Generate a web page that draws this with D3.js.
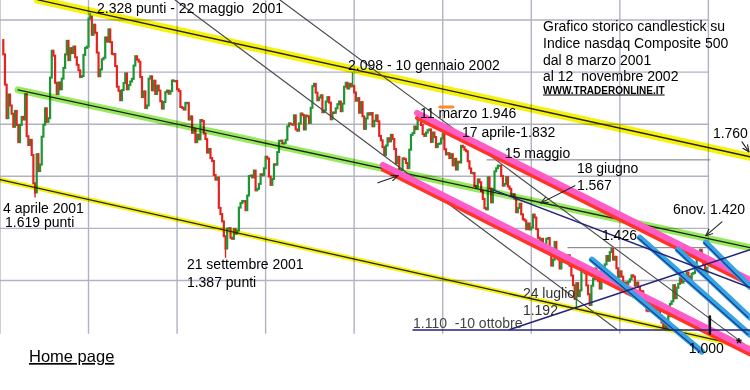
<!DOCTYPE html>
<html>
<head>
<meta charset="utf-8">
<script src="https://cdn.jsdelivr.net/npm/d3@7"></script>
<style>
  body { margin: 0; background: #fff; }
  svg { display: block; font-family: "Liberation Sans", Arial, sans-serif; }
  text { white-space: pre; }
</style>
</head>
<body>
<svg id="chart" width="750" height="390"></svg>
<script>
// daily closes, [day, close]
var mar01 = [[8,2168],[9,2052],[12,1923],[13,2014],[14,1972],[15,1940],[16,1890],[19,1951],[20,1897],[21,1831],[22,1897],[23,1928],[26,1918],[27,2015],[28,1854],[29,1820],[30,1840]];
var apr01 = [[2,1782],[3,1673],[4,1638],[5,1785],[6,1720],[9,1745],[10,1852],[11,1898],[12,1961],[16,1909],[17,1923],[18,2079],[19,2182],[20,2163],[23,2059],[24,2016],[25,2060],[26,2034],[27,2075],[30,2116]];
var may01 = [[1,2168],[2,2220],[3,2146],[4,2192],[7,2173],[8,2198],[9,2157],[10,2128],[11,2107],[14,2081],[15,2085],[16,2166],[17,2193],[18,2198],[21,2305],[22,2313],[23,2243],[24,2282],[25,2251],[29,2175],[30,2084],[31,2110]];
var jun01 = [[1,2149],[4,2155],[5,2233],[6,2217],[7,2264],[8,2215],[11,2170],[12,2169],[13,2123],[14,2044],[15,2028],[18,1992],[19,2031],[20,2058],[21,2095],[22,2034],[25,2050],[26,2064],[27,2074],[28,2125],[29,2161]];
var jul01 = [[2,2148],[3,2140],[5,2081],[6,2004],[9,2026],[10,1962],[11,1972],[12,2075],[13,2084],[16,2030],[17,2067],[18,2016],[19,2048],[20,2029],[23,1988],[24,1960],[25,1985],[26,2023],[27,2029],[30,2017],[31,2027]];
var aug01 = [[1,2068],[2,2066],[3,2066],[6,2034],[7,2027],[8,1966],[9,1963],[10,1956],[13,1982],[14,1982],[15,1918],[16,1930],[17,1867],[20,1881],[21,1831],[22,1860],[23,1842],[24,1916],[27,1912],[28,1864],[29,1843],[30,1791],[31,1805]];
var sep01 = [[4,1770],[5,1759],[6,1705],[7,1687],[10,1695],[17,1579],[18,1555],[19,1527],[20,1470],[21,1423],[24,1499],[25,1501],[26,1464],[27,1460],[28,1498]];
var oct01 = [[1,1480],[2,1492],[3,1580],[4,1597],[5,1605],[8,1605],[9,1570],[10,1626],[11,1701],[12,1703],[15,1696],[16,1722],[17,1646],[18,1652],[19,1671],[22,1708],[23,1704],[24,1731],[25,1775],[26,1768],[29,1699],[30,1667],[31,1690]];
var nov01 = [[1,1746],[2,1745],[5,1793],[6,1836],[7,1837],[8,1827],[9,1828],[12,1840],[13,1892],[14,1903],[15,1900],[16,1898],[19,1934],[20,1880],[21,1875],[23,1903],[26,1941],[27,1935],[28,1880],[29,1933],[30,1930]];
var dec01 = [[3,1905],[4,1963],[5,2046],[6,2055],[7,2021],[10,1992],[11,2002],[12,2011],[13,1946],[14,1953],[17,1987],[18,2004],[19,1983],[20,1919],[21,1945],[24,1944],[26,1961],[27,1977],[28,1987],[31,1950]];
var jan02 = [[2,1979],[3,2044],[4,2059],[7,2037],[8,2055],[9,2045],[10,2047],[11,2022],[14,1990],[15,2000],[16,1944],[17,1985],[18,1930],[22,1882],[23,1922],[24,1942],[25,1937],[28,1943],[29,1892],[30,1913],[31,1934]];
var feb02 = [[1,1911],[4,1855],[5,1838],[6,1812],[7,1782],[8,1818],[11,1846],[12,1834],[13,1859],[14,1843],[15,1805],[19,1750],[20,1775],[21,1716],[22,1724],[25,1769],[26,1766],[27,1751],[28,1731]];
var mar02 = [[1,1802],[4,1859],[5,1866],[6,1891],[7,1881],[8,1929],[11,1929],[12,1897],[13,1862],[14,1855],[15,1868],[18,1877],[19,1880],[20,1832],[21,1868],[22,1851],[25,1812],[26,1824],[27,1826],[28,1845]];
var apr02 = [[1,1862],[2,1804],[3,1784],[4,1789],[5,1770],[8,1785],[9,1742],[10,1767],[11,1726],[12,1756],[15,1753],[16,1817],[17,1812],[18,1802],[19,1796],[22,1758],[23,1730],[24,1713],[25,1713],[26,1663],[29,1657],[30,1688]];
var may02 = [[1,1677],[2,1643],[3,1613],[6,1578],[7,1573],[8,1696],[9,1653],[10,1600],[13,1652],[14,1719],[15,1731],[16,1741],[17,1741],[20,1701],[21,1664],[22,1671],[23,1697],[24,1661],[28,1652],[29,1624],[30,1631],[31,1615]];
var jun02 = [[3,1562],[4,1578],[5,1595],[6,1554],[7,1535],[10,1530],[11,1497],[12,1519],[13,1496],[14,1504],[17,1553],[18,1542],[19,1497],[20,1464],[21,1440],[24,1460],[25,1424],[26,1429],[27,1460],[28,1463]];
var jul02 = [[1,1403],[2,1357],[3,1380],[5,1448],[8,1405],[9,1381],[10,1346],[11,1374],[12,1373],[15,1382],[16,1375],[17,1397],[18,1356],[19,1319],[22,1282],[23,1229],[24,1290],[25,1240],[26,1262],[29,1335],[30,1344],[31,1328]];
var aug02 = [[1,1281],[2,1247],[5,1206],[6,1280],[7,1306],[8,1346],[9,1306],[12,1299],[13,1269],[14,1334],[15,1346],[16,1362],[19,1394],[20,1376],[21,1409],[22,1423],[23,1380],[26,1391],[27,1347],[28,1314],[29,1335],[30,1315]];
var sep02 = [[3,1263],[4,1292],[5,1251],[6,1295],[9,1305],[10,1320],[11,1315],[12,1280],[13,1292],[16,1275],[17,1260],[18,1259],[19,1216],[20,1222],[23,1184],[24,1183],[25,1222],[26,1221],[27,1199],[30,1172]];
var oct02 = [[1,1213],[2,1187],[3,1165],[4,1139],[7,1119],[8,1129],[9,1114],[10,1163],[11,1210],[14,1220],[15,1282],[16,1232],[17,1272],[18,1287],[21,1309],[22,1292],[23,1320],[24,1298],[25,1331],[28,1315],[29,1300],[30,1326],[31,1329]];
var nov02 = [[1,1360],[4,1396],[5,1401],[6,1418],[7,1376],[8,1359],[11,1319],[12,1349]];

var months = [["2001-03",mar01],["2001-04",apr01],["2001-05",may01],["2001-06",jun01],["2001-07",jul01],["2001-08",aug01],
  ["2001-09",sep01],["2001-10",oct01],["2001-11",nov01],["2001-12",dec01],["2002-01",jan02],["2002-02",feb02],["2002-03",mar02],
  ["2002-04",apr02],["2002-05",may02],["2002-06",jun02],["2002-07",jul02],["2002-08",aug02],["2002-09",sep02],["2002-10",oct02],["2002-11",nov02]];
var firstOpen = 2223;

// intraday extremes that are written on the chart
var extremes = [["2001-04-04",1619],["2001-05-22",2328],["2001-09-21",1387],["2002-01-10",2098],["2002-03-11",1946],
  ["2002-07-24",1192],["2002-08-22",1426],["2002-10-10",1108],["2002-11-06",1420]];

// hand drawn lines, [session number, price]
var yellowTop = [[20.8,2377],[446.9,1775]];
var yellowLow = [[-2,1687],[446.9,1042]];
var greenMid = [[8.8,2032],[446.9,1426]];
var thinLines = [[[102.8,2377],[367.3,1112]], [[165.6,2377],[443.9,1054]]];
var pinkLines = [[[247.6,1943],[446.9,1303]], [[227.2,1744],[446.9,1035]]];
var navyLines = [[[293.1,1648],[446.9,1273]], [[303.2,1112],[446.9,1418]], [[245.2,1110],[446.9,1110]]];
var blueLines = [[[352.3,1380],[418.1,1027]], [[381.0,1464],[446.9,1092]], [[403.8,1418],[446.9,1158]], [[420.5,1445],[446.9,1276]]];
var levelLines = [[[289.5,1763],[422.9,1763]], [[337.9,1426],[422.9,1426]]];
var arrows = [[[224.2,1675],[236.2,1702]], [[342.1,1664],[321.8,1598]], [[430.1,1525],[420.5,1472]], [[442.1,1832],[446.3,1794]]];
var targetMark = [[422.9,1162],[422.9,1096]];
var orangeMark = [[261.3,1966],[269.1,1966]];

// annotations [text, session, price, colour]
var labels = [
  ["2.328 punti - 22 maggio  2001", 56.1, 2327, "#000"],
  ["2.098 - 10 gennaio 2002", 206.3, 2108, "#000"],
  ["11 marzo 1.946", 249.4, 1924, "#000"],
  ["17 aprile-1.832", 274.5, 1851, "#000"],
  ["15 maggio", 300.2, 1771, "#000"],
  ["18 giugno", 343.3, 1713, "#000"],
  ["1.567", 343.3, 1648, "#000"],
  ["1.760", 424.7, 1846, "#000"],
  ["6nov. 1.420", 400.8, 1556, "#000"],
  ["1.426", 358.3, 1456, "#000"],
  ["24 luglio", 311, 1232, "#333"],
  ["1.192", 311, 1167, "#333"],
  ["1.110  -10 ottobre", 245.2, 1117, "#444"],
  ["1.000", 410.3, 1021, "#000"],
  ["4 aprile 2001", -0.2, 1560, "#000"],
  ["1.619 punti", 1.0, 1504, "#000"],
  ["21 settembre 2001", 109.9, 1343, "#000"],
  ["1.387 punti", 109.9, 1274, "#000"]
];
var titleLines = ["Grafico storico candlestick su", "Indice nasdaq Composite 500", "dal 8 marzo 2001", "al 12  novembre 2002"];
var gridPrices = [2300, 2100, 1900, 1700, 1500, 1300];
var gridSessions = [-2, 51, 104, 157, 210, 263, 316, 369, 422];

// build the sessions
var sessions = [];
months.forEach(function(m) {
  m[1].forEach(function(d) {
    sessions.push({ date: m[0] + "-" + (d[0] < 10 ? "0" : "") + d[0], close: d[1] });
  });
});
sessions.forEach(function(d, i) {
  d.i = i;
  d.open = i ? sessions[i - 1].close : firstOpen;
});

var svg = d3.select("#chart");
var x = d3.scaleLinear().domain([0, sessions.length - 1]).range([3.3, 706.7]);
var y = d3.scaleLinear().domain([1100, 2300]).range([332.6, 20]);

// grid
var grid = svg.append("g").attr("stroke", "#b2b2c2").attr("stroke-width", 1.4);
grid.selectAll(".h").data(gridPrices).enter().append("line")
  .attr("x1", x(-2)).attr("x2", x(422.5))
  .attr("y1", function(d) { return y(d); }).attr("y2", function(d) { return y(d); });
grid.selectAll(".v").data(gridSessions).enter().append("line")
  .attr("x1", function(d) { return x(d); }).attr("x2", function(d) { return x(d); })
  .attr("y1", 0).attr("y2", y(1096));

// candles
var cw = 2.2;
var candles = svg.append("g");
candles.selectAll("rect").data(sessions).enter().append("rect")
  .attr("x", function(d) { return x(d.i) - cw / 2; })
  .attr("width", cw)
  .attr("y", function(d) { return y(Math.max(d.open, d.close)) - 1; })
  .attr("height", function(d) { return Math.max(2.5, Math.abs(y(d.open) - y(d.close)) + 2); })
  .attr("fill", function(d) { return d.close >= d.open ? "#1c9632" : "#e6221c"; });

var byDate = {};
sessions.forEach(function(d) { byDate[d.date] = d; });
candles.selectAll("line").data(extremes).enter().append("line")
  .attr("x1", function(e) { return x(byDate[e[0]].i); })
  .attr("x2", function(e) { return x(byDate[e[0]].i); })
  .attr("y1", function(e) { var d = byDate[e[0]]; return y(e[1] > d.close ? Math.max(d.open, d.close) : Math.min(d.open, d.close)); })
  .attr("y2", function(e) { return y(e[1]); })
  .attr("stroke", function(e) { var d = byDate[e[0]]; return d.close >= d.open ? "#1c9632" : "#e6221c"; })
  .attr("stroke-width", 1.4);

var line = d3.line().x(function(p) { return x(p[0]); }).y(function(p) { return y(p[1]); });

function drawLine(pts, color, width, extra) {
  var p = svg.append("path").attr("d", line(pts)).attr("fill", "none")
    .attr("stroke", color).attr("stroke-width", width).attr("stroke-linecap", "round");
  if (extra) extra(p);
  return p;
}
function marker(p) { p.style("mix-blend-mode", "multiply"); }

// highlighter bands with the pen line on top
drawLine(yellowTop, "#f6f20c", 8, marker);
drawLine(yellowTop, "#222", 1.4);
drawLine(yellowLow, "#f6f20c", 5, marker);
drawLine(yellowLow, "#222", 1.3);
drawLine(greenMid, "#96ea5c", 7, marker);
drawLine(greenMid, "#222", 1.3);

thinLines.forEach(function(l) { drawLine(l, "#4a4a4a", 1.1); });
levelLines.forEach(function(l) { drawLine(l, "#777", 1); });

pinkLines.forEach(function(l) {
  drawLine(l, "#ff3326", 4, function(p) { p.attr("transform", "translate(0,5)"); });
  drawLine(l, "#ff5cc8", 6);
});

blueLines.forEach(function(l) {
  drawLine(l, "#34a4e4", 6);
  drawLine(l, "#1d3f92", 1.3, function(p) { p.attr("transform", "translate(-2,0)"); });
});

navyLines.forEach(function(l) { drawLine(l, "#23237a", 1.5); });

drawLine(targetMark, "#111", 2.5);
drawLine(orangeMark, "#ff8a2a", 3);

// arrows
svg.append("defs").append("marker")
  .attr("id", "head").attr("viewBox", "0 0 10 10").attr("refX", 9).attr("refY", 5)
  .attr("markerWidth", 7).attr("markerHeight", 7).attr("orient", "auto")
  .append("path").attr("d", "M0,1 L9,5 L0,9").attr("fill", "none").attr("stroke", "#222").attr("stroke-width", 1.4);
arrows.forEach(function(l) {
  drawLine(l, "#222", 1.1, function(p) { p.attr("marker-end", "url(#head)"); });
});

// annotations
svg.append("g").selectAll("text").data(labels).enter().append("text")
  .attr("x", function(d) { return x(d[1]); })
  .attr("y", function(d) { return y(d[2]); })
  .attr("fill", function(d) { return d[3]; })
  .attr("font-size", 14)
  .text(function(d) { return d[0]; });

svg.append("text").attr("x", x(438.5)).attr("y", y(1039))
  .attr("font-size", 15).attr("font-weight", "bold").text("*");

var title = svg.append("g").attr("font-size", 14);
title.selectAll("text").data(titleLines).enter().append("text")
  .attr("x", 543).attr("y", function(d, i) { return 31 + i * 16.8; })
  .text(function(d) { return d; });
title.append("text").attr("x", 543).attr("y", 93.5)
  .attr("font-size", 10).attr("font-weight", "bold")
  .attr("text-decoration", "underline").text("WWW.TRADERONLINE.IT");

svg.append("text").attr("x", 29).attr("y", 362)
  .attr("font-size", 16.5).attr("text-decoration", "underline")
  .text("Home page");
</script>
</body>
</html>
